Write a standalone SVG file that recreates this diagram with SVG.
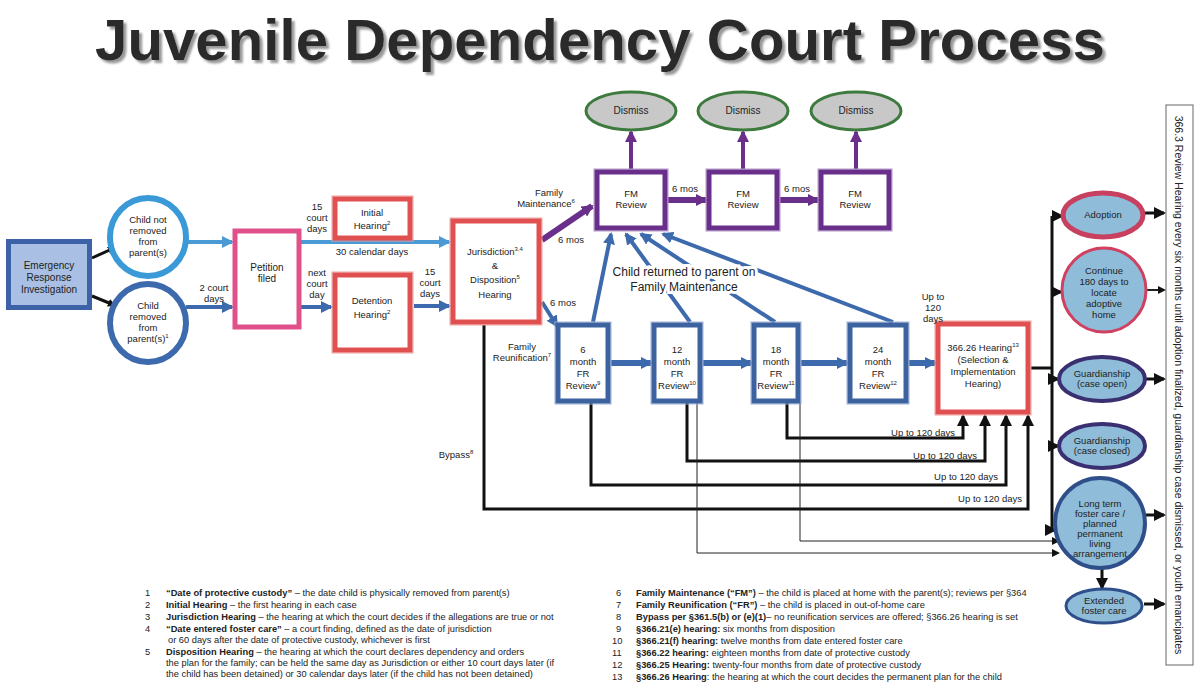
<svg xmlns="http://www.w3.org/2000/svg" width="1200" height="685" viewBox="0 0 1200 685">
<defs>
<style>
text{font-family:"Liberation Sans",Arial,sans-serif;fill:#222}
.n{font-size:10px;text-anchor:middle}
.s{font-size:9.5px;text-anchor:middle}
.f{font-size:9.3px}
.fb{font-weight:bold}
.red{fill:#fff;stroke:#e05050;stroke-width:5}
.redo{fill:none;stroke:#f0a0a0;stroke-width:1}
.pur{fill:#fff;stroke:#6a2f8a;stroke-width:5}
.puro{fill:none;stroke:#b09ac8;stroke-width:1}
.fr{fill:#fff;stroke:#3d62a0;stroke-width:5}
.fro{fill:none;stroke:#9fb3d8;stroke-width:1}
.blk{stroke:#111;stroke-width:3;fill:none}
.thin{stroke:#222;stroke-width:1;fill:none}
.ba{stroke:#3d6aad;stroke-width:4;fill:none}
.lb{stroke:#4a9ad6;stroke-width:4;fill:none}
.pa{stroke:#6a2f8a;stroke-width:4;fill:none}
.halo{paint-order:stroke;stroke:#fff;stroke-width:6}
</style>
<filter id="sh" x="-5%" y="-20%" width="110%" height="150%"><feDropShadow dx="3" dy="3" stdDeviation="1" flood-color="#999"/></filter>
<marker id="ak" markerWidth="8" markerHeight="8" refX="6" refY="4" orient="auto" markerUnits="userSpaceOnUse" viewBox="0 0 8 8"><path d="M0,0L8,4L0,8z" fill="#111"/></marker>
<marker id="ak2" markerWidth="12" markerHeight="12" refX="10" refY="6" orient="auto" markerUnits="userSpaceOnUse" viewBox="0 0 12 12"><path d="M0,0L12,6L0,12z" fill="#111"/></marker>
<marker id="ab" markerWidth="12" markerHeight="12" refX="10" refY="6" orient="auto" markerUnits="userSpaceOnUse" viewBox="0 0 12 12"><path d="M0,0L12,6L0,12z" fill="#3d6aad"/></marker>
<marker id="alb" markerWidth="12" markerHeight="12" refX="10" refY="6" orient="auto" markerUnits="userSpaceOnUse" viewBox="0 0 12 12"><path d="M0,0L12,6L0,12z" fill="#4a9ad6"/></marker>
<marker id="ap" markerWidth="12" markerHeight="12" refX="10" refY="6" orient="auto" markerUnits="userSpaceOnUse" viewBox="0 0 12 12"><path d="M0,0L12,6L0,12z" fill="#6a2f8a"/></marker>
</defs>
<rect width="1200" height="685" fill="#fff"/>
<text x="600" y="60" text-anchor="middle" font-size="58" font-weight="bold" textLength="1010" lengthAdjust="spacingAndGlyphs" filter="url(#sh)" style="fill:#2a2a2a">Juvenile Dependency Court Process</text>

<g id="connectors">
<path class="blk" d="M92,258L114,248" marker-end="url(#ak)"/>
<path class="blk" d="M92,296L114,305" marker-end="url(#ak)"/>
<path class="lb" d="M186,242L232,242" marker-end="url(#alb)"/>
<path class="ba" d="M186,307L232,307" marker-end="url(#ab)"/>
<path class="lb" d="M300,242L449,242" marker-end="url(#alb)"/>
<path class="ba" d="M300,307L331,307" marker-end="url(#ab)"/>
<path class="ba" d="M414,306L449,306" marker-end="url(#ab)"/>
<path class="pa" d="M542,240L592,206" marker-end="url(#ap)" style="stroke-width:6"/>
<path class="ba" d="M542,302L557,326" marker-end="url(#ab)"/>
<path class="pa" d="M668,200L706,200" marker-end="url(#ap)" style="stroke-width:6"/>
<path class="pa" d="M780,200L818,200" marker-end="url(#ap)" style="stroke-width:6"/>
<path class="pa" d="M631,169L631,132" marker-end="url(#ap)"/>
<path class="pa" d="M743,169L743,132" marker-end="url(#ap)"/>
<path class="pa" d="M856,169L856,132" marker-end="url(#ap)"/>
<path class="ba" d="M611,363L651,363" marker-end="url(#ab)" style="stroke-width:6"/>
<path class="ba" d="M703,363L751,363" marker-end="url(#ab)" style="stroke-width:6"/>
<path class="ba" d="M801,363L847,363" marker-end="url(#ab)" style="stroke-width:6"/>
<path class="ba" d="M909,363L935,363" marker-end="url(#ab)" style="stroke-width:6"/>
<path class="ba" d="M593,322L611,234" marker-end="url(#ab)"/>
<path class="ba" d="M690,322L626,234" marker-end="url(#ab)"/>
<path class="ba" d="M775,322L641,234" marker-end="url(#ab)"/>
<path class="ba" d="M893,322L663,234" marker-end="url(#ab)"/>
<path class="blk" d="M787,403V438H963V416" marker-end="url(#ak2)"/>
<path class="blk" d="M687,403V461H985V416" marker-end="url(#ak2)"/>
<path class="blk" d="M591,403V485H1006V416" marker-end="url(#ak2)"/>
<path class="blk" d="M484,325V509H1028V416" marker-end="url(#ak2)"/>
<path class="thin" d="M800,403V541H1058" marker-end="url(#ak)"/>
<path class="thin" d="M697,403V553H1058" marker-end="url(#ak)"/>
<path class="blk" d="M1031,368H1052M1052,216V530"/>
<path class="blk" d="M1052,216H1062" marker-end="url(#ak2)"/>
<path class="blk" d="M1052,292H1061" marker-end="url(#ak2)"/>
<path class="blk" d="M1052,379H1058" marker-end="url(#ak2)"/>
<path class="blk" d="M1052,446H1058" marker-end="url(#ak2)"/>
<path class="blk" d="M1052,530H1055" marker-end="url(#ak2)"/>
<path class="blk" d="M1143,213H1164" marker-end="url(#ak2)"/>
<path class="thin" d="M1146,290H1164" marker-end="url(#ak)" style="stroke-width:2"/>
<path class="blk" d="M1145,379H1164" marker-end="url(#ak2)"/>
<path class="blk" d="M1145,515H1164" marker-end="url(#ak2)"/>
<path class="blk" d="M1144,604H1164" marker-end="url(#ak2)"/>
<path class="blk" d="M1102,568V588" marker-end="url(#ak2)"/>
</g>

<g id="emergency"><rect x="6" y="239" width="86" height="71" fill="#3d62a8"/><rect x="11" y="244" width="76" height="61" fill="#a9bfe3"/><text class="n" x="49" y="269">Emergency</text><text class="n" x="49" y="281">Response</text><text class="n" x="49" y="293">Investigation</text></g>
<g id="not-removed"><ellipse cx="148" cy="237" rx="38" ry="39" fill="#fff" stroke="#3a9ad8" stroke-width="6"/><text class="s" x="148" y="223">Child not</text><text class="s" x="148" y="234">removed</text><text class="s" x="148" y="245">from</text><text class="s" x="148" y="256">parent(s)</text></g>
<g id="removed"><ellipse cx="148" cy="323" rx="38" ry="39" fill="#fff" stroke="#3d6aad" stroke-width="6"/><text class="s" x="148" y="309">Child</text><text class="s" x="148" y="320">removed</text><text class="s" x="148" y="331">from</text><text class="s" x="148" y="342">parent(s)<tspan font-size="6" dy="-4">1</tspan></text></g>
<g id="petition"><rect x="235" y="231" width="64" height="96" fill="#fff" stroke="#e0508a" stroke-width="5"/><text class="n" x="267" y="271">Petition</text><text class="n" x="267" y="282">filed</text></g>
<g id="initial"><rect x="332" y="196" width="81" height="45" class="redo"/><rect x="335" y="199" width="75" height="39" class="red"/><text class="s" x="372" y="216">Initial</text><text class="s" x="372" y="229">Hearing<tspan font-size="6" dy="-4">2</tspan></text></g>
<g id="detention"><rect x="332" y="272" width="81" height="81" class="redo"/><rect x="335" y="275" width="75" height="75" class="red"/><text class="s" x="372" y="304">Detention</text><text class="s" x="372" y="318">Hearing<tspan font-size="6" dy="-4">2</tspan></text></g>
<g id="jurisdiction"><rect x="450" y="218" width="92" height="107" class="redo"/><rect x="453" y="221" width="86" height="101" class="red"/><text class="s" x="495" y="255">Jurisdiction<tspan font-size="6" dy="-4">3,4</tspan></text><text class="s" x="495" y="269">&amp;</text><text class="s" x="495" y="283">Disposition<tspan font-size="6" dy="-4">5</tspan></text><text class="s" x="495" y="298">Hearing</text></g>
<g id="fm1"><rect x="594" y="169" width="74" height="62" class="puro"/><rect x="597" y="172" width="68" height="56" class="pur"/><text class="s" x="631" y="197">FM</text><text class="s" x="631" y="208">Review</text></g>
<g id="fm2"><rect x="706" y="169" width="74" height="62" class="puro"/><rect x="709" y="172" width="68" height="56" class="pur"/><text class="s" x="743" y="197">FM</text><text class="s" x="743" y="208">Review</text></g>
<g id="fm3"><rect x="818" y="169" width="74" height="62" class="puro"/><rect x="821" y="172" width="68" height="56" class="pur"/><text class="s" x="855" y="197">FM</text><text class="s" x="855" y="208">Review</text></g>
<g id="dismiss1"><ellipse cx="631" cy="111" rx="45" ry="19" fill="#c8c8c8" stroke="#3d7a3d" stroke-width="3"/><text class="n" x="631" y="114">Dismiss</text></g>
<g id="dismiss2"><ellipse cx="743" cy="111" rx="45" ry="19" fill="#c8c8c8" stroke="#3d7a3d" stroke-width="3"/><text class="n" x="743" y="114">Dismiss</text></g>
<g id="dismiss3"><ellipse cx="856" cy="111" rx="45" ry="19" fill="#c8c8c8" stroke="#3d7a3d" stroke-width="3"/><text class="n" x="856" y="114">Dismiss</text></g>
<g id="fr6"><rect x="555" y="322" width="56" height="82" class="fro"/><rect x="558" y="325" width="50" height="76" class="fr"/><text class="s" x="583" y="353">6</text><text class="s" x="583" y="365">month</text><text class="s" x="583" y="377">FR</text><text class="s" x="583" y="389">Review<tspan font-size="6" dy="-4">9</tspan></text></g>
<g id="fr12"><rect x="651" y="322" width="52" height="82" class="fro"/><rect x="654" y="325" width="46" height="76" class="fr"/><text class="s" x="677" y="353">12</text><text class="s" x="677" y="365">month</text><text class="s" x="677" y="377">FR</text><text class="s" x="677" y="389">Review<tspan font-size="6" dy="-4">10</tspan></text></g>
<g id="fr18"><rect x="751" y="322" width="50" height="82" class="fro"/><rect x="754" y="325" width="44" height="76" class="fr"/><text class="s" x="776" y="353">18</text><text class="s" x="776" y="365">month</text><text class="s" x="776" y="377">FR</text><text class="s" x="776" y="389">Review<tspan font-size="6" dy="-4">11</tspan></text></g>
<g id="fr24"><rect x="847" y="322" width="62" height="82" class="fro"/><rect x="850" y="325" width="56" height="76" class="fr"/><text class="s" x="878" y="353">24</text><text class="s" x="878" y="365">month</text><text class="s" x="878" y="377">FR</text><text class="s" x="878" y="389">Review<tspan font-size="6" dy="-4">12</tspan></text></g>
<g id="h36626"><rect x="935" y="321" width="96" height="94" class="redo"/><rect x="938" y="324" width="90" height="88" class="red"/><text class="s" x="983" y="351">366.26 Hearing<tspan font-size="6" dy="-4">13</tspan></text><text class="s" x="983" y="363">(Selection &amp;</text><text class="s" x="983" y="375">Implementation</text><text class="s" x="983" y="387">Hearing)</text></g>
<g id="adoption"><ellipse cx="1103" cy="215" rx="40" ry="22" fill="#8fbcd8" stroke="#c84060" stroke-width="5"/><text class="s" x="1103" y="218">Adoption</text></g>
<g id="continue"><ellipse cx="1104" cy="290" rx="42" ry="42" fill="#8fbcd8" stroke="#d04060" stroke-width="3"/><text class="s" x="1104" y="274">Continue</text><text class="s" x="1104" y="285">180 days to</text><text class="s" x="1104" y="296">locate</text><text class="s" x="1104" y="307">adoptive</text><text class="s" x="1104" y="318">home</text></g>
<g id="guard-open"><ellipse cx="1102" cy="379" rx="43" ry="22" fill="#8fbcd8" stroke="#3a2f70" stroke-width="4"/><text class="s" x="1102" y="377" font-size="8.5">Guardianship</text><text class="s" x="1102" y="387" font-size="8.5">(case open)</text></g>
<g id="guard-closed"><ellipse cx="1102" cy="446" rx="43" ry="22" fill="#8fbcd8" stroke="#3a2f70" stroke-width="4"/><text class="s" x="1102" y="444" font-size="8.5">Guardianship</text><text class="s" x="1102" y="454" font-size="8.5">(case closed)</text></g>
<g id="longterm"><ellipse cx="1100" cy="523" rx="45" ry="45" fill="#8fbcd8" stroke="#2f4f8a" stroke-width="4"/><text class="s" x="1100" y="507" font-size="8.5">Long term</text><text class="s" x="1100" y="517" font-size="8.5">foster care /</text><text class="s" x="1100" y="527" font-size="8.5">planned</text><text class="s" x="1100" y="537" font-size="8.5">permanent</text><text class="s" x="1100" y="547" font-size="8.5">living</text><text class="s" x="1100" y="557" font-size="8.5">arrangement</text></g>
<g id="extended"><ellipse cx="1104" cy="606" rx="38" ry="17" fill="#8fbcd8" stroke="#2f4f8a" stroke-width="3"/><text class="s" x="1104" y="604" font-size="8.5">Extended</text><text class="s" x="1104" y="614" font-size="8.5">foster care</text></g>
<g id="review-box"><rect x="1166" y="105" width="27" height="560" fill="#fff" stroke="#666" stroke-width="1"/><text font-size="10.5" transform="translate(1175,385) rotate(90)" text-anchor="middle">366.3 Review Hearing every six months until adoption finalized, guardianship case dismissed, or youth emancipates</text></g>

<g id="labels">
<text class="s" x="317" y="210">15</text><text class="s" x="317" y="221">court</text><text class="s" x="317" y="232">days</text>
<text class="s" x="372" y="255">30 calendar days</text>
<text class="s" x="317" y="276">next</text><text class="s" x="317" y="287">court</text><text class="s" x="317" y="298">day</text>
<text class="s" x="214" y="291">2 court</text><text class="s" x="214" y="302">days</text>
<text class="s" x="430" y="275">15</text><text class="s" x="430" y="286">court</text><text class="s" x="430" y="297">days</text>
<text class="s" x="549" y="196">Family</text><text class="s" x="546" y="207">Maintenance<tspan font-size="6" dy="-4">6</tspan></text>
<text class="s" x="571" y="243">6 mos</text>
<text class="s" x="563" y="306">6 mos</text>
<text class="s" x="522" y="350">Family</text><text class="s" x="522" y="361">Reunification<tspan font-size="6" dy="-4">7</tspan></text>
<text class="s" x="685" y="192">6 mos</text><text class="s" x="797" y="192">6 mos</text>
<text x="684" y="276" text-anchor="middle" font-size="12" class="halo">Child returned to parent on</text>
<text x="684" y="291" text-anchor="middle" font-size="12" class="halo">Family Maintenance</text>
<text class="s" x="933" y="300">Up to</text><text class="s" x="933" y="311">120</text><text class="s" x="933" y="322">days</text>
<text class="s" x="456" y="458">Bypass<tspan font-size="6" dy="-4">8</tspan></text>
<text class="s" x="955" y="436" style="text-anchor:end">Up to 120 days</text>
<text class="s" x="977" y="459" style="text-anchor:end">Up to 120 days</text>
<text class="s" x="998" y="480" style="text-anchor:end">Up to 120 days</text>
<text class="s" x="1022" y="502" style="text-anchor:end">Up to 120 days</text>
</g>

<g id="footnotes" class="f">
<text class="f" x="145" y="596">1</text><text class="f" x="166" y="596"><tspan class="fb">“Date of protective custody”</tspan> – the date child is physically removed from parent(s)</text>
<text class="f" x="145" y="608">2</text><text class="f" x="166" y="608"><tspan class="fb">Initial Hearing</tspan> – the first hearing in each case</text>
<text class="f" x="145" y="620">3</text><text class="f" x="166" y="620"><tspan class="fb">Jurisdiction Hearing</tspan> – the hearing at which the court decides if the allegations are true or not</text>
<text class="f" x="145" y="632">4</text><text class="f" x="166" y="632"><tspan class="fb">“Date entered foster care”</tspan> – a court finding, defined as the date of jurisdiction</text>
<text class="f" x="168" y="643">or 60 days after the date of protective custody, whichever is first</text>
<text class="f" x="145" y="655">5</text><text class="f" x="166" y="655"><tspan class="fb">Disposition Hearing</tspan> – the hearing at which the court declares dependency and orders</text>
<text class="f" x="166" y="666">the plan for the family; can be held the same day as Jurisdiction or either 10 court days later (if</text>
<text class="f" x="166" y="677">the child has been detained) or 30 calendar days later (if the child has not been detained)</text>
<text class="f" x="616" y="596">6</text><text class="f" x="636" y="596"><tspan class="fb">Family Maintenance (“FM”)</tspan> – the child is placed at home with the parent(s); reviews per §364</text>
<text class="f" x="616" y="608">7</text><text class="f" x="636" y="608"><tspan class="fb">Family Reunification (“FR”)</tspan> – the child is placed in out-of-home care</text>
<text class="f" x="616" y="620">8</text><text class="f" x="636" y="620"><tspan class="fb">Bypass per §361.5(b) or  (e)(1)</tspan>– no reunification services are offered; §366.26 hearing is set</text>
<text class="f" x="616" y="632">9</text><text class="f" x="636" y="632"><tspan class="fb">§366.21(e) hearing:</tspan>  six months from disposition</text>
<text class="f" x="612" y="644">10</text><text class="f" x="636" y="644"><tspan class="fb">§366.21(f) hearing:</tspan>  twelve months from date entered foster care</text>
<text class="f" x="612" y="656">11</text><text class="f" x="636" y="656"><tspan class="fb">§366.22 hearing:</tspan>  eighteen months from date of protective custody</text>
<text class="f" x="612" y="668">12</text><text class="f" x="636" y="668"><tspan class="fb">§366.25 Hearing:</tspan>  twenty-four months from date of protective custody</text>
<text class="f" x="612" y="680">13</text><text class="f" x="636" y="680"><tspan class="fb">§366.26 Hearing</tspan>:  the hearing at which the court decides the permanent plan for the child</text>
</g>
</svg>
